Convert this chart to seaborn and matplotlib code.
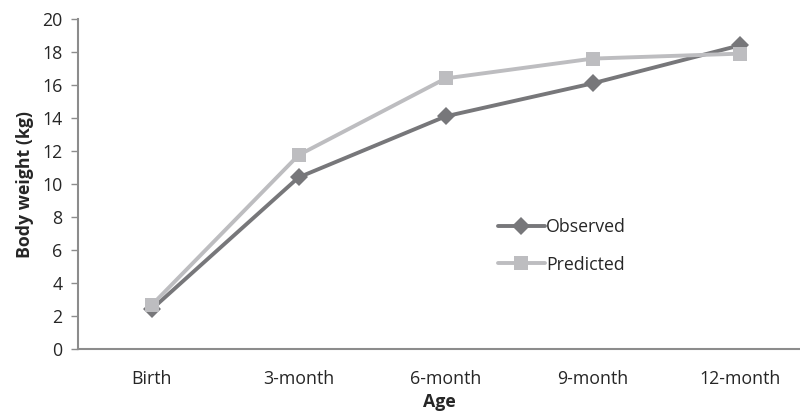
import matplotlib
matplotlib.use("Agg")
import matplotlib.pyplot as plt
import seaborn as sns
import pandas as pd

ages = ["Birth", "3-month", "6-month", "9-month", "12-month"]
observed = [2.4, 10.4, 14.1, 16.1, 18.4]
predicted = [2.65, 11.75, 16.4, 17.6, 17.9]
yticks = [0, 2, 4, 6, 8, 10, 12, 14, 16, 18, 20]

df = pd.DataFrame({
    "Age": ages * 2,
    "Weight": observed + predicted,
    "Series": ["Observed"] * len(ages) + ["Predicted"] * len(ages),
})

sns.set_style("white")
plt.rcParams["font.family"] = ["Open Sans", "DejaVu Sans"]

fig = plt.figure(figsize=(8.0, 4.15), dpi=100)
ax = fig.add_axes([78 / 800, 66 / 415, 722 / 800, 330 / 415])

sns.lineplot(
    data=df, x="Age", y="Weight", hue="Series", style="Series",
    markers={"Observed": "D", "Predicted": "s"}, dashes=False,
    palette={"Observed": "#77777a", "Predicted": "#bdbdc0"},
    linewidth=2.8, markersize=9.5, markeredgewidth=0, ax=ax, sort=False,
)
for line in ax.lines:
    if line.get_marker() == "s":
        line.set_markersize(10.5)

fs = 12.8
ax.set_xlim(-0.5, 4.41)
ax.set_ylim(0, 20)
ax.set_yticks(yticks)
ax.set_yticklabels([str(v) for v in yticks], fontsize=fs, color="#262626")
ax.set_xticks(range(len(ages)))
ax.set_xticklabels(ages, fontsize=fs, color="#262626")
ax.tick_params(axis="y", direction="out", length=5, width=1, color="#8c8c8c", left=True, pad=6)
ax.tick_params(axis="x", length=0, pad=15)

for s in ["top", "right"]:
    ax.spines[s].set_visible(False)
for s in ["left", "bottom"]:
    ax.spines[s].set_color("#8c8c8c")
    ax.spines[s].set_linewidth(1.5)

ax.set_xlabel("Age", fontsize=fs, fontweight="bold", color="#262626", labelpad=4)
ax.set_ylabel("Body weight (kg)", fontsize=fs, fontweight="bold", color="#262626", labelpad=6)

leg = ax.legend(loc="upper left", bbox_to_anchor=(0.56, 0.445), frameon=False,
                fontsize=fs, handlelength=2.6, handletextpad=0.1, labelspacing=1.1)
for t in leg.get_texts():
    t.set_color("#262626")

fig.savefig("out.png", dpi=100)
